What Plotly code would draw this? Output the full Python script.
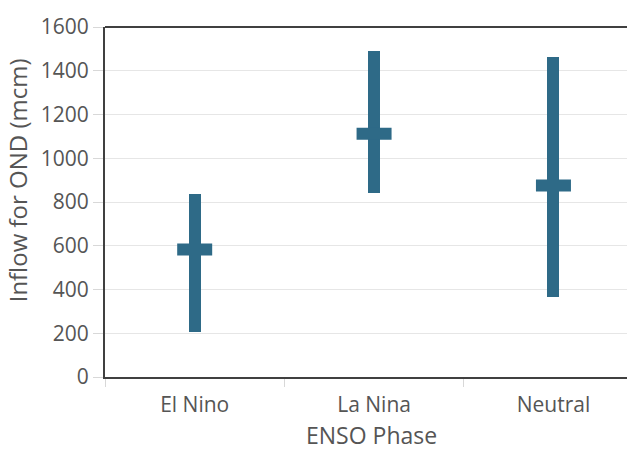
import plotly.graph_objects as go

# Inflow summary per ENSO phase (million cubic metres)
phases = ["El Nino", "La Nina", "Neutral"]
inflow_min = [207, 842, 367]
inflow_max = [835, 1492, 1463]
inflow_mean = [583, 1112, 875]

y_ticks = [0, 200, 400, 600, 800, 1000, 1200, 1400, 1600]

bar_color = "#2e6a87"
text_color = "#555555"
font_family = "'Open Sans', 'Noto Sans', sans-serif"

fig = go.Figure()

# Range bar from minimum to maximum
fig.add_trace(go.Bar(
    x=phases,
    base=inflow_min,
    y=[hi - lo for lo, hi in zip(inflow_min, inflow_max)],
    width=0.067,
    marker=dict(color=bar_color, line=dict(width=0)),
    hoverinfo="skip",
    showlegend=False,
))

# Mean marker as a horizontal crossbar
fig.add_trace(go.Scatter(
    x=phases,
    y=inflow_mean,
    mode="markers",
    marker=dict(symbol="line-ew", size=25, color=bar_color,
                line=dict(width=12, color=bar_color)),
    showlegend=False,
))

fig.update_layout(
    width=639,
    height=453,
    margin=dict(l=105, r=12, t=16, b=76),
    paper_bgcolor="white",
    plot_bgcolor="white",
    font=dict(family=font_family, color=text_color, size=21),
    bargap=0,
    shapes=[
        # top frame line
        dict(type="line", xref="paper", yref="paper", x0=0, x1=1, y0=1, y1=1,
             line=dict(color="#404040", width=2), layer="above"),
    ],
    annotations=[
        dict(text="Inflow for OND (mcm)", textangle=-90, showarrow=False,
             xref="paper", yref="paper", x=-0.166, y=0.563,
             xanchor="center", yanchor="middle",
             font=dict(size=24, color=text_color)),
        dict(text="ENSO Phase", showarrow=False,
             xref="paper", yref="paper", x=0.51, y=-0.165,
             xanchor="center", yanchor="middle",
             font=dict(size=23, color=text_color)),
    ],
)

fig.update_xaxes(
    range=[-0.5, 2.41],
    showline=True, linecolor="#404040", linewidth=2,
    ticks="outside", tickson="boundaries", ticklen=8, tickcolor="#d8d8d8",
    showgrid=False,
    tickfont=dict(size=21, color=text_color),
    ticklabelstandoff=8,
)

fig.update_yaxes(
    range=[0, 1600],
    tickvals=y_ticks,
    showline=True, linecolor="#404040", linewidth=2,
    ticks="outside", ticklen=10, tickcolor="#d8d8d8",
    showgrid=True, gridcolor="#e6e6e6", gridwidth=1,
    zeroline=False,
    tickfont=dict(size=21, color=text_color),
)

fig.write_html("out.html")
